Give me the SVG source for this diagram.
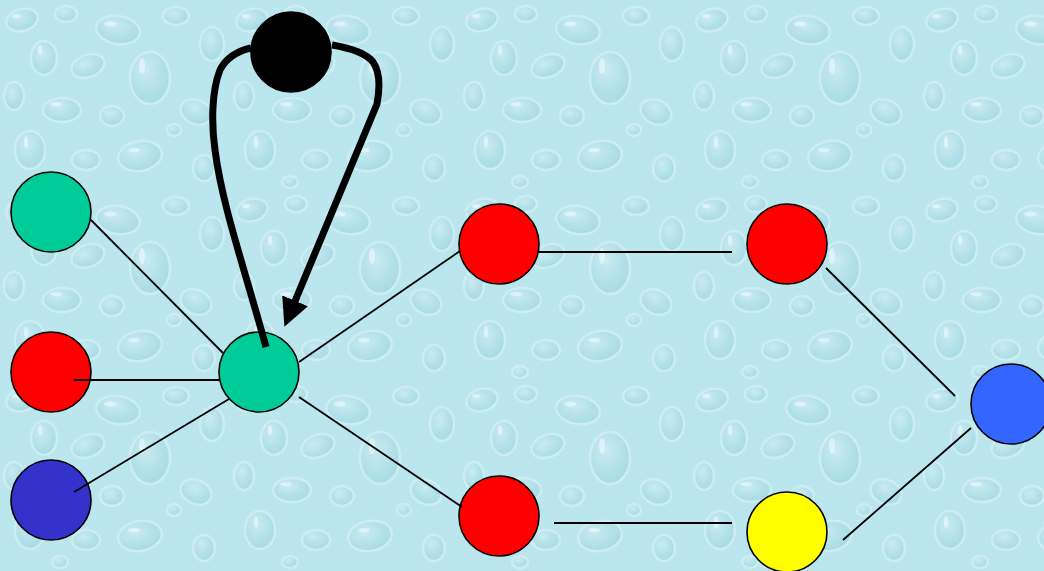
<svg xmlns="http://www.w3.org/2000/svg" width="1044" height="571" viewBox="0 0 1044 571">
  <style>
    .node { stroke: #000; stroke-width: 1.6; }
    .edge { stroke: #000; stroke-width: 1.8; fill: none; }
    .loop { stroke: #000; stroke-width: 7; fill: none; stroke-linejoin: round; }
  </style>
  <defs>
    <radialGradient id="drop" cx="0.4" cy="0.35" r="0.75">
      <stop offset="0" stop-color="#d4f0f4"/>
      <stop offset="0.6" stop-color="#a6d9e3"/>
      <stop offset="1" stop-color="#93cfdb"/>
    </radialGradient>
    <!-- water-droplet texture tile -->
    <pattern id="water" width="230" height="190" patternUnits="userSpaceOnUse">
      <rect width="230" height="190" fill="#bce6ed"/>
      <g fill="url(#drop)" stroke="#d8f3f6" stroke-width="2.5" opacity="0.55">
        <ellipse cx="22" cy="20" rx="16" ry="11" transform="rotate(-15 22 20)"/>
        <ellipse cx="66" cy="14" rx="11" ry="8"/>
        <ellipse cx="118" cy="30" rx="22" ry="14" transform="rotate(10 118 30)"/>
        <ellipse cx="176" cy="16" rx="13" ry="9"/>
        <ellipse cx="212" cy="44" rx="12" ry="17"/>
        <ellipse cx="44" cy="58" rx="13" ry="17"/>
        <ellipse cx="88" cy="66" rx="17" ry="11" transform="rotate(-20 88 66)"/>
        <ellipse cx="150" cy="78" rx="20" ry="26"/>
        <ellipse cx="14" cy="96" rx="10" ry="14"/>
        <ellipse cx="62" cy="110" rx="19" ry="12"/>
        <ellipse cx="112" cy="116" rx="12" ry="10"/>
        <ellipse cx="196" cy="112" rx="16" ry="12" transform="rotate(25 196 112)"/>
        <ellipse cx="30" cy="150" rx="15" ry="19"/>
        <ellipse cx="86" cy="160" rx="14" ry="10"/>
        <ellipse cx="140" cy="156" rx="22" ry="15" transform="rotate(-10 140 156)"/>
        <ellipse cx="204" cy="168" rx="11" ry="13"/>
        <ellipse cx="60" cy="182" rx="8" ry="6"/>
        <ellipse cx="174" cy="130" rx="7" ry="6"/>
      </g>
      <g fill="#eefafc" opacity="0.6">
        <ellipse cx="16" cy="16" rx="4" ry="2"/>
        <ellipse cx="110" cy="24" rx="6" ry="2.5"/>
        <ellipse cx="40" cy="50" rx="2" ry="5"/>
        <ellipse cx="142" cy="66" rx="3" ry="8"/>
        <ellipse cx="56" cy="104" rx="6" ry="2"/>
        <ellipse cx="26" cy="142" rx="2" ry="6"/>
        <ellipse cx="134" cy="150" rx="6" ry="2"/>
      </g>
    </pattern>
    <marker id="head" viewBox="0 0 10 10" refX="2" refY="5" markerWidth="4" markerHeight="4" orient="auto" markerUnits="strokeWidth">
      <path d="M0,0 L10,5 L0,10 Z" fill="#000"/>
    </marker>
  </defs>

  <rect width="1044" height="571" fill="url(#water)"/>

  <g id="n-hub"><circle class="node" cx="259" cy="372" r="40" fill="#00cc99"/></g>
  <g id="n-top"><circle class="node" cx="291" cy="52" r="40" fill="#000"/></g>
  <g id="n-left-green"><circle class="node" cx="51" cy="212" r="40" fill="#00cc99"/></g>
  <g id="n-left-red"><circle class="node" cx="51" cy="372" r="40" fill="#ff0000"/></g>
  <g id="n-left-blue"><circle class="node" cx="51" cy="500" r="40" fill="#3333cc"/></g>
  <g id="n-mid-red-top"><circle class="node" cx="499" cy="244" r="40" fill="#ff0000"/></g>
  <g id="n-mid-red-bottom"><circle class="node" cx="499" cy="516" r="40" fill="#ff0000"/></g>
  <g id="n-right-red"><circle class="node" cx="787" cy="244" r="40" fill="#ff0000"/></g>
  <g id="n-right-yellow"><circle class="node" cx="787" cy="532" r="40" fill="#ffff00"/></g>
  <g id="n-far-blue"><circle class="node" cx="1011" cy="404" r="40" fill="#3366ff"/></g>

  <g id="connectors">
    <line class="edge" x1="91" y1="220" x2="223" y2="353"/>
    <line class="edge" x1="74" y1="380" x2="219" y2="380"/>
    <line class="edge" x1="74" y1="492" x2="229" y2="399"/>
    <line class="edge" x1="299" y1="362" x2="460" y2="251"/>
    <line class="edge" x1="299" y1="397" x2="462" y2="507"/>
    <line class="edge" x1="539" y1="252" x2="732" y2="252"/>
    <line class="edge" x1="554" y1="523" x2="732" y2="523"/>
    <line class="edge" x1="826" y1="268" x2="955" y2="396"/>
    <line class="edge" x1="971" y1="428" x2="843" y2="540"/>
    <path class="loop" d="M251,48 C238,51 226,58 220,70 C212,90 211,122 215,150 C222,205 245,270 266,347"/>
    <path class="loop" marker-end="url(#head)" d="M332,45 C350,48 366,53 373,62 C380,72 380,88 377,104 L293,306"/>
  </g>
</svg>
